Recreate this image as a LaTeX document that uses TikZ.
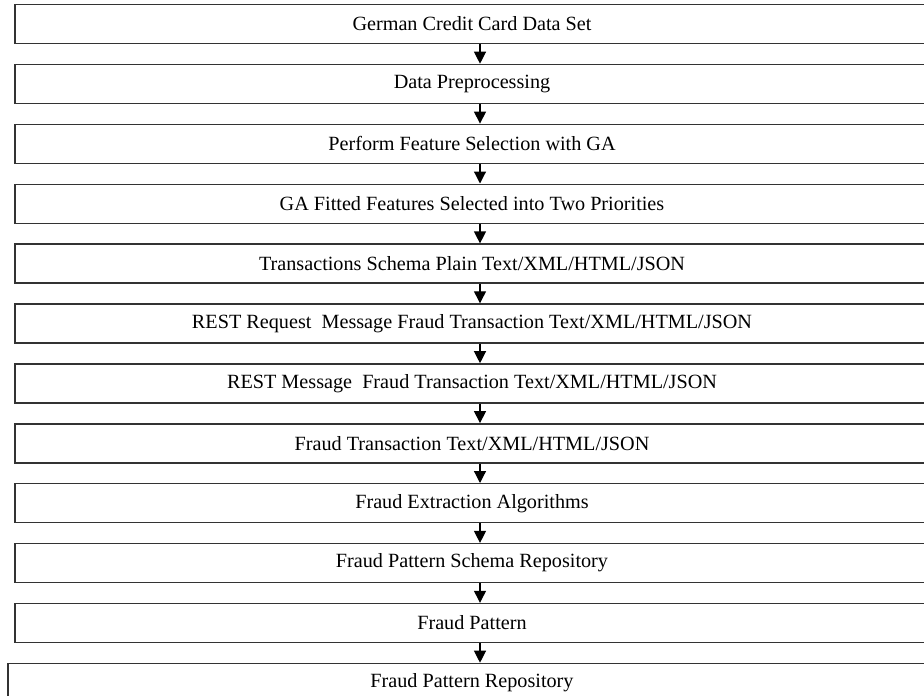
\documentclass[tikz,border=0pt]{standalone}
\usepackage{fontspec}
\setmainfont{Liberation Serif}
\usetikzlibrary{positioning,arrows.meta}

\begin{document}
\begin{tikzpicture} [x=1pt, y=-1pt,
				stage/.style={
				% The shape:
				rectangle,
				% The size:
      				minimum width=914pt, minimum height=39pt,
				inner sep=0pt,
				% The border:
      				line width=1.4pt,
     				draw=black!80,
				% Font
				font=\fontsize{20.2}{24}\selectfont
    				},
				store/.style={
				stage,
				% wider than the others
      				minimum width=928pt
    				},
				flow/.style={
				line width=1.2pt, draw=black,
				-{Triangle[width=12pt,length=12pt]}
				},
				node distance=19.5pt
				]
    \useasboundingbox (0,0) rectangle (924,696);
    \clip (0,0) rectangle (924,696);
    \tikzstyle{every node} = [align=center]
    \node [stage] (s1) at (472,24) {German Credit Card Data Set};
    \node [stage, below=of s1] (s2) {Data Preprocessing};
    \node [stage, below=of s2] (s3) {Perform Feature Selection with GA};
    \node [stage, below=of s3] (s4) {GA Fitted Features Selected into Two Priorities};
    \node [stage, below=of s4] (s5) {Transactions Schema Plain Text/XML/HTML/JSON};
    \node [stage, below=of s5] (s6) {REST Request\ \ Message Fraud Transaction Text/XML/HTML/JSON};
    \node [stage, below=of s6] (s7) {REST Message\ \ Fraud Transaction Text/XML/HTML/JSON};
    \node [stage, below=of s7] (s8) {Fraud Transaction Text/XML/HTML/JSON};
    \node [stage, below=of s8] (s9) {Fraud Extraction Algorithms};
    \node [stage, below=of s9] (s10) {Fraud Pattern Schema Repository};
    \node [stage, below=of s10] (s11) {Fraud Pattern};
    \node [store, below=of s11] (s12) {Fraud Pattern Repository};
    % arrows between the stages
    \foreach \i [evaluate=\i as \j using int(\i+1)] in {1,...,11}
        \draw [flow] ([xshift=8pt]s\i.south) -- ([xshift=8pt]s\j.north);
\end{tikzpicture}
\end{document}
